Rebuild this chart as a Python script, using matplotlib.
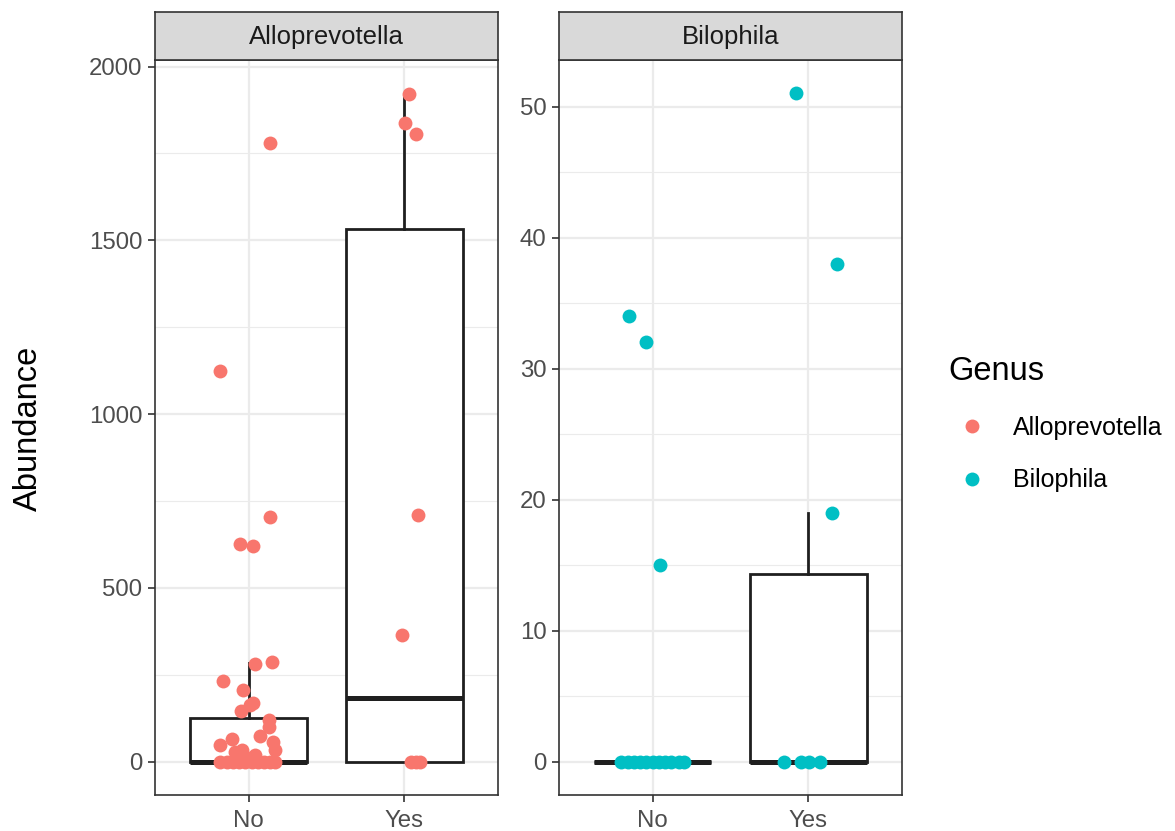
import numpy as np
import matplotlib.pyplot as plt
from matplotlib.lines import Line2D

plt.rcParams['font.family'] = ['Liberation Sans', 'DejaVu Sans']

# Colours for the two genera (ggplot default hue palette)
genera = ['Alloprevotella', 'Bilophila']
colors = ['#F8766D', '#00BFC4']
groups = ['No', 'Yes']

# Alloprevotella, group "No": jittered x and abundance
allo_no_x = [1.137, 0.818, 1.137, 0.946, 1.029, 1.041, 1.150, 0.838, 0.965, 1.029,
             1.010, 0.952, 1.131, 1.131, 1.073, 0.818, 0.895, 1.156, 1.169, 0.959,
             0.914, 1.040, 0.980, 0.82, 0.86, 0.90, 0.94, 0.98, 1.02, 1.06, 1.10,
             1.14, 1.17]
allo_no_y = [1779, 1124, 704, 626, 620, 282, 287, 233, 207, 170,
             164, 147, 121, 101, 75, 49, 66, 57, 34, 34,
             29, 20, 12, 0, 0, 0, 0, 0, 0, 0, 0,
             0, 0]
# Alloprevotella, group "Yes"
allo_yes_x = [1.984, 2.086, 2.029, 2.003, 2.073, 2.041, 2.073, 2.099]
allo_yes_y = [365, 710, 1922, 1839, 1807, 0, 0, 0]

# Bilophila, group "No"
bilo_no_x = [0.846, 0.955, 1.045, 0.80, 0.84, 0.88, 0.92, 0.96, 1.00, 1.04,
             1.08, 1.12, 1.17, 1.20]
bilo_no_y = [34, 32, 15, 0, 0, 0, 0, 0, 0, 0, 0, 0, 0, 0]
# Bilophila, group "Yes"
bilo_yes_x = [1.917, 2.186, 2.154, 1.846, 1.955, 2.006, 2.071]
bilo_yes_y = [51, 38, 19, 0, 0, 0, 0]

# Box statistics: q1, median, q3, upper whisker
allo_box = [dict(q1=0, med=0, q3=126, whislo=0, whishi=285),
            dict(q1=0, med=184, q3=1532, whislo=0, whishi=1922)]
bilo_box = [dict(q1=0, med=0, q3=0, whislo=0, whishi=0),
            dict(q1=0, med=0, q3=14.3, whislo=0, whishi=19)]

allo_ticks = [0, 500, 1000, 1500, 2000]
bilo_ticks = [0, 10, 20, 30, 40, 50]

W, H = 1175, 831
fig = plt.figure(figsize=(W / 100, H / 100), dpi=100)

panels = [
    (155, allo_box, [(allo_no_x, allo_no_y), (allo_yes_x, allo_yes_y)], allo_ticks, (-96, 2019), genera[0], colors[0]),
    (559, bilo_box, [(bilo_no_x, bilo_no_y), (bilo_yes_x, bilo_yes_y)], bilo_ticks, (-2.55, 53.55), genera[1], colors[1]),
]

pw = 343
top, bottom = 60, 795
grid_col = '#EBEBEB'
line_col = '#1f1f1f'

for left, stats, pts, ticks, ylim, name, col in panels:
    ax = fig.add_axes([left / W, 1 - bottom / H, pw / W, (bottom - top) / H])
    ax.set_xlim(0.4, 2.6)
    ax.set_ylim(*ylim)
    ax.set_facecolor('white')

    # grid
    step = ticks[1] - ticks[0]
    for t in ticks:
        ax.axhline(t, color=grid_col, lw=1.6, zorder=0)
    for t in np.arange(ticks[0] - step / 2, ticks[-1] + step, step):
        ax.axhline(t, color=grid_col, lw=0.8, zorder=0)
    for xx in [1, 2]:
        ax.axvline(xx, color=grid_col, lw=1.6, zorder=0)

    ax.bxp(stats, positions=[1, 2], widths=0.75, showfliers=False, showcaps=False,
           patch_artist=True,
           boxprops=dict(facecolor='white', edgecolor=line_col, linewidth=2.0),
           whiskerprops=dict(color=line_col, linewidth=2.0),
           medianprops=dict(color=line_col, linewidth=3.6, solid_capstyle='butt'),
           manage_ticks=False, zorder=2)

    for xs, ys in pts:
        ax.plot(xs, ys, 'o', color=col, markersize=10, markeredgewidth=0, zorder=3)

    ax.set_xticks([1, 2])
    ax.set_xticklabels(groups)
    ax.set_yticks(ticks)
    ax.set_yticklabels([str(t) for t in ticks])
    ax.tick_params(axis='both', length=5, width=1.2, color='#333333',
                   labelsize=17.3, labelcolor='#4D4D4D', pad=4)
    ax.tick_params(axis='x', pad=6)
    for s in ax.spines.values():
        s.set_color('#333333')
        s.set_linewidth(1.2)

    # facet strip
    sax = fig.add_axes([left / W, 1 - top / H, pw / W, 48 / H])
    sax.set_facecolor('#D9D9D9')
    sax.set_xticks([])
    sax.set_yticks([])
    for s in sax.spines.values():
        s.set_color('#333333')
        s.set_linewidth(1.2)
    sax.text(0.5, 0.47, name, ha='center', va='center', fontsize=18.5, color='#1A1A1A')

fig.text(28 / W, 1 - 428 / H, 'Abundance', rotation=90, ha='center', va='center', fontsize=23.5)

handles = [Line2D([], [], marker='o', linestyle='', color=c, markersize=10, markeredgewidth=0)
           for c in colors]
leg = fig.legend(handles, genera, title='Genus', loc='upper left',
                 bbox_to_anchor=(938 / W, 1 - 346 / H), frameon=False,
                 fontsize=18, title_fontsize=23.5, labelspacing=1.15,
                 handletextpad=0.7, borderaxespad=0, handlelength=1.9)
leg._legend_box.align = 'left'

fig.savefig('out.png', dpi=100)
